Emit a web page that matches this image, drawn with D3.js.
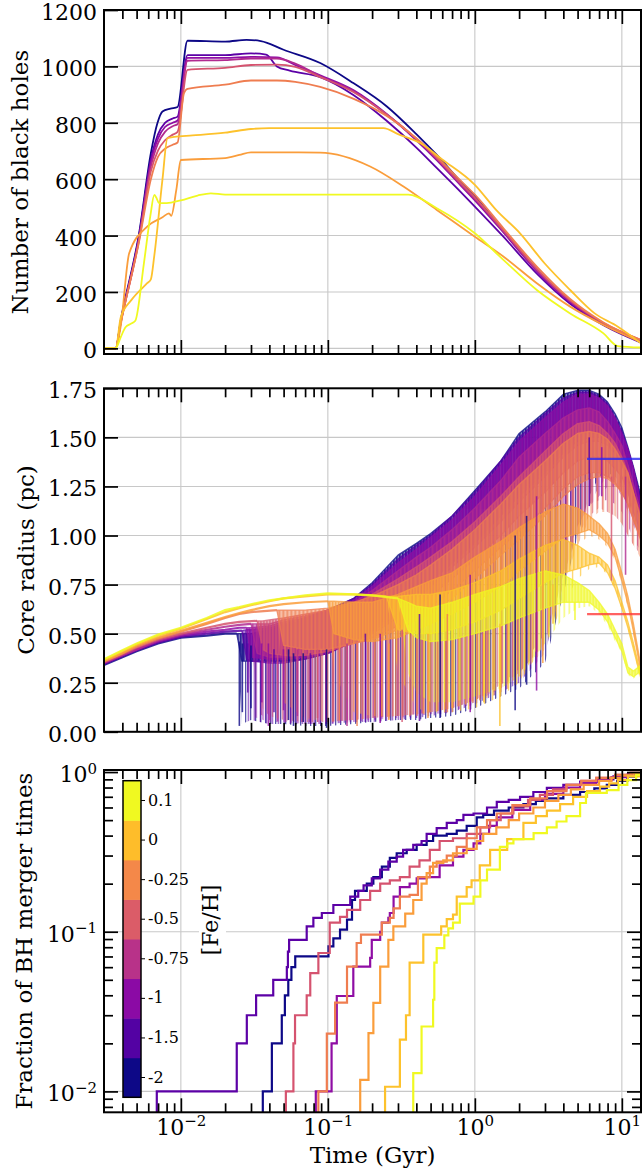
<!DOCTYPE html>
<html>
<head>
<meta charset="utf-8">
<script src="https://cdn.jsdelivr.net/npm/d3@7"></script>
<style>
  body { margin: 0; background: #fff; }
  svg { display: block; font-family: "DejaVu Serif", serif; }
</style>
</head>
<body>
<svg id="chart" width="644" height="1171"></svg>
<script>
// ---- runs (one colour per simulation) ----
const runIds = ["m2", "m1.5", "m1", "m0.75", "m0.5", "m0.25", "mid", "p0", "p0.1"];
const runColors = ["#0d0887", "#5c01a6", "#8f0da4", "#b12a90", "#d5536f", "#ef7d50", "#fa9d3b", "#fdc22c", "#f0f921"];

// colorbar
const cbLabels = ["-2", "-1.5", "-1", "-0.75", "-0.5", "-0.25", "0", "0.1"];

// ---- panel 1: number of black holes [t (Gyr), N] ----
const nbh0 = [[0.003,0],[0.0036,0],[0.0039,100],[0.0052,408],[0.00625,692],[0.00693,799],[0.0075,840],[0.0085,850],[0.0095,856],[0.0111,1091],[0.02,1088],[0.028,1094],[0.035,1090],[0.05,1059],[0.0887,1012],[0.149,941],[0.252,858],[0.4,760],[0.551,686],[0.8,592],[1.0,540],[1.57,415],[2.64,280],[4.45,168],[7.5,88],[13.5,22]];
const nbh1 = [[0.003,0],[0.0036,0],[0.0039,95],[0.0052,400],[0.00625,670],[0.007,760],[0.0078,800],[0.0088,815],[0.0095,822],[0.0111,1040],[0.02,1040],[0.03,1046],[0.038,1042],[0.045,1000],[0.055,985],[0.0887,962],[0.15,898],[0.25,808],[0.4,712],[0.55,640],[0.8,555],[1.0,503],[1.57,395],[2.64,265],[4.45,158],[7.5,82],[13.5,20]];
const nbh2 = [[0.003,0],[0.0036,0],[0.0039,95],[0.0052,395],[0.00625,660],[0.007,745],[0.0078,785],[0.0088,800],[0.0095,808],[0.0111,1030],[0.02,1030],[0.03,1034],[0.045,1032],[0.06,1005],[0.0887,968],[0.15,915],[0.25,832],[0.4,738],[0.55,668],[0.8,578],[1.0,525],[1.57,410],[2.64,274],[4.45,164],[7.5,86],[13.5,25]];
const nbh3 = [[0.003,0],[0.0036,0],[0.0039,92],[0.0052,390],[0.00625,645],[0.007,728],[0.0078,768],[0.0088,788],[0.0095,795],[0.0111,1020],[0.02,1022],[0.03,1028],[0.045,1028],[0.06,1010],[0.0887,965],[0.15,912],[0.25,830],[0.4,742],[0.55,672],[0.8,582],[1.0,530],[1.57,414],[2.64,278],[4.45,168],[7.5,88],[13.5,28]];
const nbh4 = [[0.003,0],[0.0036,0],[0.0039,90],[0.0052,385],[0.00625,628],[0.007,702],[0.0078,738],[0.0088,758],[0.0095,768],[0.0111,988],[0.02,995],[0.03,1005],[0.045,1006],[0.06,998],[0.0887,962],[0.15,908],[0.25,830],[0.4,744],[0.55,676],[0.8,586],[1.0,535],[1.57,418],[2.64,282],[4.45,170],[7.5,90],[13.5,30]];
const nbh5 = [[0.003,0],[0.0036,0],[0.0039,90],[0.0052,380],[0.00625,600],[0.007,680],[0.0078,708],[0.0088,722],[0.0095,730],[0.0105,905],[0.0111,920],[0.02,935],[0.03,950],[0.045,950],[0.06,945],[0.0887,927],[0.15,885],[0.25,825],[0.4,745],[0.55,680],[0.8,595],[1.0,545],[1.57,425],[2.64,290],[4.45,175],[7.5,92],[13.5,30]];
const nbh6 = [[0.003,0],[0.0036,0],[0.0039,80],[0.00445,337],[0.0059,432],[0.0075,465],[0.0083,479],[0.0086,470],[0.0093,560],[0.01,668],[0.02,675],[0.025,686],[0.03,695],[0.05,695],[0.0887,694],[0.194,645],[0.327,574],[0.551,491],[1.0,396],[1.57,325],[2.64,231],[4.45,148],[7.5,83],[13.5,22]];
const nbh7 = [[0.003,0],[0.0036,0],[0.0039,110],[0.0046,171],[0.0059,231],[0.00625,245],[0.0066,330],[0.0075,600],[0.0081,745],[0.009,750],[0.012,755],[0.02,765],[0.03,778],[0.04,781],[0.1,781],[0.239,781],[0.3,760],[0.425,728],[0.6,670],[1.0,580],[1.4,490],[2.03,408],[3.0,300],[4.45,207],[6.5,125],[9.4,77],[13.5,18]];
const nbh8 = [[0.003,0],[0.0036,0],[0.0039,40],[0.0042,75],[0.0046,88],[0.0049,98],[0.0056,300],[0.0062,470],[0.0066,544],[0.0068,535],[0.0071,515],[0.008,515],[0.01,525],[0.013,542],[0.016,550],[0.02,545],[0.1,545],[0.353,545],[0.551,497],[1.0,408],[1.57,313],[2.64,207],[4.45,124],[7.5,53],[9.4,8],[13.5,3]];
const nbhRuns = [nbh0, nbh1, nbh2, nbh3, nbh4, nbh5, nbh6, nbh7, nbh8];

// ---- panel 2: core radius ----
// smooth early part [t, r]
const crEarly0 = [[0.003,0.34],[0.004,0.38],[0.005,0.41],[0.007,0.45],[0.01,0.48],[0.015,0.49],[0.02,0.5],[0.024,0.5]];
const crEarly1 = [[0.003,0.345],[0.004,0.385],[0.005,0.415],[0.007,0.455],[0.01,0.485],[0.015,0.5],[0.02,0.51],[0.026,0.515]];
const crEarly2 = [[0.003,0.35],[0.004,0.39],[0.005,0.42],[0.007,0.46],[0.01,0.49],[0.015,0.51],[0.02,0.52],[0.025,0.53],[0.028,0.53]];
const crEarly3 = [[0.003,0.35],[0.004,0.39],[0.005,0.42],[0.007,0.465],[0.01,0.495],[0.015,0.52],[0.02,0.535],[0.025,0.545],[0.03,0.55]];
const crEarly4 = [[0.003,0.355],[0.004,0.395],[0.005,0.43],[0.007,0.47],[0.01,0.5],[0.015,0.53],[0.02,0.55],[0.025,0.56],[0.033,0.565]];
const crEarly5 = [[0.003,0.36],[0.004,0.4],[0.005,0.435],[0.007,0.475],[0.01,0.51],[0.015,0.55],[0.02,0.58],[0.025,0.6],[0.03,0.61],[0.045,0.62]];
const crEarly6 = [[0.003,0.36],[0.004,0.4],[0.005,0.44],[0.007,0.48],[0.01,0.515],[0.015,0.555],[0.02,0.585],[0.025,0.605],[0.03,0.62],[0.04,0.64],[0.05,0.65],[0.07,0.66],[0.1,0.665]];
const crEarly7 = [[0.003,0.365],[0.004,0.41],[0.005,0.445],[0.007,0.49],[0.01,0.525],[0.015,0.575],[0.02,0.61],[0.025,0.63],[0.03,0.645],[0.04,0.665],[0.05,0.68],[0.07,0.69],[0.1,0.7],[0.15,0.7],[0.2,0.695],[0.25,0.69]];
const crEarly8 = [[0.003,0.37],[0.004,0.415],[0.005,0.45],[0.007,0.495],[0.01,0.53],[0.015,0.58],[0.02,0.62],[0.025,0.635],[0.03,0.65],[0.04,0.67],[0.05,0.68],[0.07,0.695],[0.1,0.705],[0.15,0.7],[0.2,0.695],[0.3,0.68]];
const crEarlyRuns = [crEarly0, crEarly1, crEarly2, crEarly3, crEarly4, crEarly5, crEarly6, crEarly7, crEarly8];

// oscillating part [t, deepest dip, band bottom, band top]
const crBand0 = [[0.024,0.5,0.5,0.5],[0.026,0.04,0.36,0.5],[0.03,0.06,0.36,0.5],[0.04,0.04,0.36,0.52],[0.05,0.04,0.36,0.54],[0.07,0.03,0.37,0.57],[0.1,0.03,0.4,0.62],[0.15,0.04,0.46,0.68],[0.2,0.05,0.52,0.76],[0.3,0.06,0.64,0.9],[0.4,0.06,0.72,0.96],[0.5,0.07,0.77,1.01],[0.7,0.08,0.86,1.1],[1,0.12,0.97,1.23],[1.5,0.18,1.1,1.38],[2,0.22,1.22,1.52],[3,0.35,1.34,1.63],[4,0.7,1.44,1.72],[5,1.0,1.5,1.74],[6,1.2,1.52,1.74],[7,1.3,1.52,1.72],[8,1.32,1.5,1.68],[9,1.3,1.46,1.62],[10,1.26,1.4,1.55],[11,1.18,1.32,1.45],[12,1.1,1.24,1.35],[13.5,1.0,1.1,1.2]];
const crBand1 = [[0.026,0.515,0.515,0.515],[0.028,0.05,0.37,0.52],[0.03,0.06,0.36,0.52],[0.04,0.04,0.35,0.53],[0.05,0.04,0.35,0.55],[0.07,0.04,0.37,0.58],[0.1,0.04,0.4,0.62],[0.15,0.05,0.46,0.68],[0.2,0.05,0.52,0.75],[0.3,0.06,0.62,0.88],[0.4,0.07,0.7,0.95],[0.5,0.08,0.76,1.0],[0.7,0.1,0.86,1.1],[1,0.14,0.96,1.22],[1.5,0.2,1.1,1.38],[2,0.25,1.2,1.5],[3,0.4,1.32,1.62],[4,0.75,1.42,1.7],[5,1.05,1.48,1.73],[6,1.15,1.5,1.73],[7,1.25,1.5,1.71],[8,1.3,1.48,1.67],[9,1.28,1.44,1.6],[10,1.24,1.38,1.53],[11,1.15,1.3,1.44],[12,1.08,1.22,1.34],[13.5,0.98,1.08,1.18]];
const crBand2 = [[0.028,0.53,0.53,0.53],[0.03,0.08,0.38,0.53],[0.04,0.05,0.37,0.54],[0.05,0.05,0.37,0.56],[0.07,0.04,0.38,0.58],[0.1,0.04,0.4,0.62],[0.15,0.05,0.46,0.67],[0.2,0.06,0.51,0.74],[0.3,0.07,0.6,0.86],[0.4,0.08,0.68,0.93],[0.5,0.09,0.74,0.99],[0.7,0.1,0.84,1.08],[1,0.15,0.94,1.2],[1.5,0.22,1.07,1.36],[2,0.3,1.17,1.48],[3,0.45,1.3,1.6],[4,0.8,1.4,1.68],[5,1.05,1.46,1.72],[6,1.15,1.48,1.72],[7,1.2,1.48,1.7],[8,1.25,1.46,1.66],[9,1.25,1.42,1.6],[10,1.2,1.36,1.52],[11,1.12,1.28,1.44],[12,1.05,1.2,1.34],[13.5,0.96,1.06,1.16]];
const crBand3 = [[0.03,0.55,0.55,0.55],[0.033,0.1,0.4,0.55],[0.04,0.06,0.38,0.55],[0.05,0.05,0.38,0.57],[0.07,0.05,0.39,0.59],[0.1,0.05,0.41,0.62],[0.15,0.06,0.46,0.66],[0.2,0.07,0.5,0.72],[0.3,0.08,0.58,0.82],[0.4,0.09,0.64,0.89],[0.5,0.1,0.69,0.94],[0.7,0.12,0.78,1.03],[1,0.16,0.88,1.14],[1.5,0.24,1.0,1.28],[2,0.32,1.1,1.4],[3,0.5,1.22,1.52],[4,0.85,1.32,1.6],[5,1.05,1.38,1.64],[6,1.15,1.4,1.65],[7,1.18,1.4,1.63],[8,1.18,1.38,1.58],[9,1.16,1.34,1.52],[10,1.12,1.3,1.46],[11,1.05,1.22,1.36],[12,0.98,1.12,1.26],[13.5,0.92,1.02,1.12]];
const crBand4 = [[0.033,0.565,0.565,0.565],[0.036,0.12,0.42,0.565],[0.04,0.08,0.4,0.57],[0.05,0.06,0.39,0.58],[0.07,0.05,0.39,0.6],[0.1,0.05,0.41,0.62],[0.15,0.06,0.45,0.65],[0.2,0.07,0.48,0.7],[0.3,0.08,0.54,0.78],[0.4,0.09,0.6,0.84],[0.5,0.1,0.64,0.89],[0.7,0.12,0.72,0.97],[1,0.16,0.82,1.07],[1.5,0.24,0.94,1.2],[2,0.3,1.02,1.3],[3,0.45,1.14,1.43],[4,0.8,1.24,1.52],[5,1.0,1.3,1.57],[6,1.1,1.32,1.58],[7,1.14,1.32,1.56],[8,1.12,1.3,1.52],[9,1.1,1.27,1.47],[10,1.06,1.22,1.4],[11,1.0,1.16,1.32],[12,0.95,1.08,1.22],[13.5,0.9,0.98,1.1]];
const crBand5 = [[0.045,0.62,0.62,0.62],[0.05,0.15,0.44,0.62],[0.07,0.07,0.42,0.62],[0.1,0.05,0.42,0.63],[0.15,0.06,0.45,0.66],[0.2,0.07,0.47,0.69],[0.3,0.08,0.52,0.75],[0.4,0.09,0.57,0.8],[0.5,0.1,0.6,0.85],[0.7,0.12,0.68,0.93],[1,0.16,0.78,1.03],[1.5,0.22,0.9,1.16],[2,0.28,0.98,1.26],[3,0.42,1.1,1.38],[4,0.75,1.2,1.47],[5,0.95,1.26,1.52],[6,1.08,1.29,1.53],[7,1.12,1.3,1.52],[8,1.12,1.29,1.49],[9,1.1,1.26,1.44],[10,1.06,1.22,1.38],[11,1.0,1.16,1.32],[12,0.95,1.08,1.22],[13.5,0.88,0.97,1.08]];
const crBand6 = [[0.1,0.665,0.665,0.665],[0.11,0.3,0.5,0.665],[0.15,0.1,0.47,0.66],[0.2,0.08,0.46,0.66],[0.3,0.08,0.48,0.7],[0.4,0.08,0.52,0.74],[0.5,0.1,0.55,0.77],[0.7,0.12,0.6,0.81],[1,0.15,0.66,0.89],[1.5,0.2,0.74,0.97],[2,0.25,0.82,1.04],[3,0.5,0.92,1.12],[4,0.8,0.99,1.16],[5,0.95,1.01,1.14],[6,1.0,1.03,1.1],[7,0.98,1.0,1.06],[8,0.94,0.96,1.01],[9,0.87,0.89,0.93],[10,0.75,0.77,0.81],[11,0.63,0.65,0.69],[12,0.49,0.51,0.55],[13.5,0.28,0.3,0.33]];
const crBand7 = [[0.25,0.69,0.69,0.69],[0.3,0.3,0.52,0.69],[0.4,0.12,0.5,0.7],[0.5,0.1,0.5,0.7],[0.7,0.1,0.52,0.72],[1,0.12,0.56,0.76],[1.5,0.18,0.62,0.82],[2,0.25,0.68,0.88],[3,0.45,0.76,0.95],[4,0.65,0.81,0.98],[5,0.78,0.83,0.95],[6,0.83,0.85,0.91],[7,0.84,0.86,0.89],[8,0.8,0.81,0.85],[9,0.72,0.73,0.77],[10,0.62,0.63,0.66],[11,0.52,0.53,0.56],[12,0.41,0.42,0.45],[13.5,0.26,0.27,0.29]];
const crBand8 = [[0.3,0.68,0.68,0.68],[0.35,0.3,0.52,0.66],[0.4,0.2,0.48,0.64],[0.5,0.15,0.46,0.63],[0.7,0.15,0.47,0.66],[1,0.18,0.5,0.7],[1.5,0.22,0.54,0.74],[2,0.28,0.58,0.78],[3,0.45,0.63,0.82],[4,0.58,0.66,0.8],[5,0.63,0.66,0.76],[6,0.64,0.66,0.72],[7,0.6,0.62,0.66],[8,0.54,0.56,0.6],[9,0.46,0.48,0.52],[10,0.4,0.41,0.45],[11,0.29,0.3,0.33],[12,0.27,0.28,0.31],[13.5,0.3,0.31,0.34]];
const crBandRuns = [crBand0, crBand1, crBand2, crBand3, crBand4, crBand5, crBand6, crBand7, crBand8];

// single deep dips [run, t, from r, to r]
const crDips = [
  [0,0.025,0.46,0.03],[0,0.0262,0.45,0.1],[1,0.0285,0.45,0.2],[0,0.03,0.44,0.12],[2,0.0355,0.45,0.15],
  [2,0.0394,0.45,0.03],[1,0.043,0.42,0.1],[2,0.0499,0.42,0.11],[0,0.054,0.42,0.06],[0,0.0584,0.4,0.03],
  [3,0.062,0.42,0.08],[0,0.068,0.4,0.05],[1,0.076,0.4,0.04],[4,0.085,0.42,0.07],[0,0.098,0.42,0.02],
  [5,0.12,0.45,0.06],[3,0.135,0.45,0.03],[5,0.158,0.45,0.03],[1,0.18,0.5,0.05],[2,0.227,0.5,0.045],
  [6,0.26,0.45,0.06],[4,0.32,0.52,0.05],[1,0.42,0.6,0.055],[6,0.48,0.5,0.07],[0,0.58,0.7,0.07],
  [5,0.65,0.6,0.1],[2,0.93,0.8,0.1],[7,1.15,0.5,0.15],[7,1.48,0.55,0.03],[0,1.88,1.0,0.11],
  [0,2.25,1.1,0.24],[2,2.63,1.2,0.21],[6,2.9,0.9,0.35],[7,3.4,0.75,0.55],[8,4.8,0.66,0.57],
  [1,6.0,1.5,1.15],[2,7.3,1.45,1.2],[4,8.5,1.3,0.77],[3,10.6,1.3,0.8]
];
// horizontal reference radii [r, t start, t end]
const refRadii = [[1.39, 5.8, 13.5], [0.6, 5.8, 13.5]];
const refColors = ["#2a2af5", "#ff3b3b"];

// ---- panel 3: cumulative fraction of BH merger times [t, fraction] ----
const merge0 = [[0.0361,0.01],[0.0416,0.02],[0.0486,0.03],[0.051,0.04],[0.0538,0.05],[0.0565,0.06],[0.06,0.07],[0.101,0.081],[0.109,0.091],[0.121,0.103],[0.135,0.119],[0.146,0.158],[0.153,0.18],[0.184,0.2],[0.204,0.22],[0.233,0.256],[0.264,0.29],[0.294,0.31],[0.344,0.326],[0.402,0.35],[0.47,0.37],[0.52,0.4],[0.644,0.41],[0.753,0.43],[0.88,0.46],[1.03,0.52],[1.14,0.54],[1.35,0.573],[1.7,0.6],[2.14,0.63],[2.6,0.66],[3.09,0.685],[4.0,0.72],[5.2,0.75],[6.5,0.79],[7.9,0.83],[9.3,0.88],[10.9,0.935],[12.5,0.98],[13.5,1.0]];
const merge1 = [[0.00686,0.01],[0.024,0.02],[0.0281,0.03],[0.0325,0.04],[0.0425,0.05],[0.0526,0.06],[0.0535,0.075],[0.0545,0.089],[0.0718,0.108],[0.0797,0.122],[0.091,0.131],[0.109,0.147],[0.142,0.166],[0.161,0.18],[0.175,0.195],[0.199,0.216],[0.227,0.245],[0.258,0.275],[0.294,0.295],[0.325,0.326],[0.381,0.35],[0.434,0.37],[0.47,0.41],[0.55,0.445],[0.644,0.48],[0.753,0.5],[0.836,0.54],[0.98,0.55],[1.21,0.6],[1.41,0.65],[1.7,0.67],[2.03,0.7],[2.5,0.75],[3.09,0.795],[4.0,0.83],[5.2,0.87],[6.8,0.9],[8.77,0.94],[11,0.97],[13.5,1.0]];
const merge2 = [[0.0828,0.01],[0.106,0.02],[0.115,0.0396],[0.149,0.0605],[0.194,0.0686],[0.199,0.089],[0.227,0.1],[0.233,0.114],[0.258,0.122],[0.264,0.131],[0.28,0.166],[0.309,0.19],[0.36,0.2],[0.402,0.216],[0.47,0.22],[0.576,0.26],[0.71,0.295],[0.836,0.326],[0.98,0.358],[1.09,0.41],[1.25,0.46],[1.41,0.52],[1.8,0.58],[2.38,0.67],[3.0,0.73],[4.0,0.8],[5.2,0.85],[6.7,0.89],[8.5,0.93],[11,0.97],[13.5,1.0]];
const merge4 = [[0.0518,0.01],[0.0583,0.02],[0.0598,0.03],[0.0718,0.04],[0.0759,0.055],[0.0862,0.0736],[0.103,0.114],[0.121,0.124],[0.135,0.137],[0.166,0.158],[0.194,0.18],[0.227,0.2],[0.264,0.21],[0.309,0.22],[0.36,0.256],[0.42,0.28],[0.494,0.326],[0.576,0.37],[0.71,0.385],[0.88,0.41],[1.09,0.45],[1.27,0.5],[1.5,0.55],[1.83,0.61],[2.3,0.67],[2.77,0.72],[3.4,0.78],[4.2,0.83],[5.3,0.88],[6.7,0.92],[9,0.96],[11.5,0.99],[13.5,1.0]];
const merge5 = [[0.0862,0.01],[0.0984,0.023],[0.112,0.036],[0.135,0.0605],[0.157,0.085],[0.168,0.096],[0.233,0.114],[0.264,0.122],[0.28,0.14],[0.309,0.166],[0.36,0.17],[0.41,0.22],[0.494,0.256],[0.55,0.275],[0.644,0.3],[0.753,0.34],[0.88,0.385],[1.03,0.45],[1.21,0.5],[1.41,0.55],[1.8,0.62],[2.38,0.685],[3.1,0.76],[4.2,0.83],[5.3,0.88],[6.7,0.92],[9,0.96],[11.5,0.99],[13.5,1.0]];
const merge6 = [[0.166,0.0118],[0.189,0.0232],[0.204,0.0359],[0.227,0.0605],[0.258,0.089],[0.279,0.108],[0.336,0.13],[0.381,0.158],[0.434,0.2],[0.47,0.233],[0.52,0.27],[0.61,0.28],[0.71,0.31],[0.88,0.33],[1.03,0.37],[1.14,0.41],[1.4,0.45],[1.7,0.5],[2.0,0.55],[2.5,0.6],[3.0,0.66],[3.7,0.72],[4.5,0.78],[5.5,0.83],[7,0.88],[8.5,0.92],[10,0.95],[12,0.98],[13.5,1.0]];
const merge7 = [[0.245,0.0107],[0.309,0.0211],[0.34,0.03],[0.36,0.064],[0.446,0.096],[0.59,0.108],[0.644,0.12],[0.71,0.128],[0.753,0.166],[0.88,0.19],[0.95,0.21],[1.08,0.26],[1.27,0.326],[1.66,0.38],[2.14,0.48],[2.6,0.53],[3.09,0.573],[3.8,0.63],[4.66,0.7],[5.8,0.76],[7.1,0.81],[8.2,0.85],[9.4,0.89],[11,0.94],[13.5,1.0]];
const merge8 = [[0.381,0.013],[0.434,0.0255],[0.52,0.0375],[0.53,0.064],[0.55,0.079],[0.62,0.095],[0.66,0.105],[0.71,0.114],[0.79,0.15],[0.98,0.166],[1.09,0.21],[1.21,0.245],[1.48,0.34],[1.66,0.358],[1.83,0.38],[2.51,0.414],[3.09,0.45],[3.6,0.49],[4.2,0.53],[5.2,0.64],[5.7,0.74],[7.9,0.77],[9.5,0.83],[10.9,0.89],[12.5,0.96],[13.5,1.0]];
const mergeRuns = [merge0, merge1, merge2, null, merge4, merge5, merge6, merge7, merge8];

// ---- layout ----
const svg = d3.select("#chart");
const left = 104, right = 641;
const p1 = { top: 10, bottom: 354 };
const p2 = { top: 388.3, bottom: 731.8 };
const p3 = { top: 770, bottom: 1112.3 };

const x = d3.scaleLog().domain([0.003, 13.5]).range([left, right]);
const y1 = d3.scaleLinear().domain([-20, 1200]).range([p1.bottom, p1.top]);
const y2 = d3.scaleLinear().domain([0, 1.75]).range([p2.bottom, p2.top]);
const y3 = d3.scaleLog().domain([0.0074, 1.03]).range([p3.bottom, p3.top]);

const xMajor = [0.01, 0.1, 1, 10];
const xMinor = [];
[0.001, 0.01, 0.1, 1].forEach(d => { for (let k = 2; k < 10; k++) { const v = k * d; if (v > 0.0031 && v < 13.5) xMinor.push(v); } });
const y3Major = [0.01, 0.1, 1];
const y3Minor = [];
[0.001, 0.01, 0.1].forEach(d => { for (let k = 2; k < 10; k++) { const v = k * d; if (v > 0.0074 && v < 1) y3Minor.push(v); } });

const defs = svg.append("defs");
[p1, p2, p3].forEach((p, i) => {
  defs.append("clipPath").attr("id", "clip" + (i + 1))
    .append("rect").attr("x", left).attr("y", p.top).attr("width", right - left).attr("height", p.bottom - p.top);
});
// vertical hatching that stands in for the dense oscillation of each core-radius run
runColors.forEach((c, i) => {
  const w = 5 + (i % 4);
  defs.append("pattern").attr("id", "spikes" + i)
    .attr("patternUnits", "userSpaceOnUse").attr("width", w).attr("height", 20)
    .attr("patternTransform", `translate(${(i * 1.7) % w},0)`)
    .append("rect").attr("width", 1.3).attr("height", 20).attr("fill", c);
  const wc = 3 + (i % 2);
  defs.append("pattern").attr("id", "dense" + i)
    .attr("patternUnits", "userSpaceOnUse").attr("width", wc).attr("height", 20)
    .attr("patternTransform", `translate(${(i * 1.3) % wc},0)`)
    .append("rect").attr("width", 1.6).attr("height", 20).attr("fill", c);
});

// grid lines
function grid(p, yScale, yVals) {
  const g = svg.append("g").attr("stroke", "#c8c8c8").attr("stroke-width", 1.1);
  g.selectAll(".gx").data(xMajor).join("line")
    .attr("x1", d => x(d)).attr("x2", d => x(d)).attr("y1", p.top).attr("y2", p.bottom);
  g.selectAll(".gy").data(yVals).join("line")
    .attr("x1", left).attr("x2", right).attr("y1", d => yScale(d)).attr("y2", d => yScale(d));
}
grid(p1, y1, [0, 200, 400, 600, 800, 1000]);
grid(p2, y2, [0.25, 0.5, 0.75, 1, 1.25, 1.5]);
grid(p3, y3, [0.01, 0.1]);

// ---- panel 1 ----
const line1 = d3.line().curve(d3.curveMonotoneX).x(d => x(d[0])).y(d => y1(d[1]));
svg.append("g").attr("clip-path", "url(#clip1)")
  .selectAll("path").data(nbhRuns).join("path")
  .attr("d", line1).attr("fill", "none")
  .attr("stroke", (d, i) => runColors[i]).attr("stroke-width", 1.8)
  .attr("stroke-linejoin", "round");

// ---- panel 2 ----
const g2 = svg.append("g").attr("clip-path", "url(#clip2)");
const floorArea = d3.area().x(d => x(d[0])).y0(d => y2(d[1])).y1(d => y2(d[2]));
const coreArea = d3.area().x(d => x(d[0])).y0(d => y2(d[2])).y1(d => y2(d[3]));
const line2 = d3.line().x(d => x(d[0])).y(d => y2(d[1]));
crBandRuns.forEach((band, i) => {
  g2.append("path").attr("d", floorArea(band)).attr("fill", `url(#spikes${i})`).attr("opacity", 0.7);
  g2.append("path").attr("d", coreArea(band)).attr("fill", runColors[i]).attr("opacity", 0.5);
  g2.append("path").attr("d", coreArea(band)).attr("fill", `url(#dense${i})`)
    .attr("stroke", runColors[i]).attr("stroke-width", 1.3).attr("stroke-linejoin", "round").attr("opacity", 0.75);
  g2.append("path").attr("d", line2(crEarlyRuns[i])).attr("fill", "none")
    .attr("stroke", runColors[i]).attr("stroke-width", 2.2).attr("opacity", 0.85);
});
g2.selectAll(".dip").data(crDips).join("line")
  .attr("x1", d => x(d[1])).attr("x2", d => x(d[1]))
  .attr("y1", d => y2(d[2])).attr("y2", d => y2(d[3]))
  .attr("stroke", d => runColors[d[0]]).attr("stroke-width", 1.6).attr("opacity", 0.8);
g2.selectAll(".ref").data(refRadii).join("line")
  .attr("x1", d => x(d[1])).attr("x2", d => x(d[2]))
  .attr("y1", d => y2(d[0])).attr("y2", d => y2(d[0]))
  .attr("stroke", (d, i) => refColors[i]).attr("stroke-width", 2.2).attr("opacity", 0.8);

// ---- panel 3 ----
const line3 = d3.line().curve(d3.curveStepAfter).x(d => x(d[0])).y(d => y3(d[1]));
svg.append("g").attr("clip-path", "url(#clip3)")
  .selectAll("path").data(mergeRuns.map((d, i) => ({ d, i })).filter(o => o.d)).join("path")
  .attr("d", o => line3([[o.d[0][0], 0.005]].concat(o.d)))
  .attr("fill", "none").attr("stroke", o => runColors[o.i]).attr("stroke-width", 2.2);

// ---- axes ----
function cleanAxis(g, fontSize) {
  g.select(".domain").remove();
  g.attr("font-family", "DejaVu Serif").attr("font-size", fontSize);
  g.selectAll(".tick line").attr("stroke", "#000").attr("stroke-width", 1.7);
  g.selectAll(".tick text").attr("fill", "#000");
}
function powerLabels(g) {
  g.selectAll(".tick text").each(function(d) {
    const t = d3.select(this);
    const e = Math.round(Math.log10(d));
    t.text(null);
    t.append("tspan").text("10");
    t.append("tspan").attr("dy", -8.5).attr("font-size", 15).text(e < 0 ? "\u2212" + (-e) : String(e));
  });
}
function xTicks(p, labels) {
  const b = svg.append("g").attr("transform", `translate(0,${p.bottom})`)
    .call(d3.axisBottom(x).tickValues(xMajor).tickSize(-14).tickPadding(7).tickFormat(labels ? null : () => ""));
  cleanAxis(b, 22);
  if (labels) powerLabels(b);
  cleanAxis(svg.append("g").attr("transform", `translate(0,${p.bottom})`)
    .call(d3.axisBottom(x).tickValues(xMinor).tickSize(-9).tickFormat(() => "")), 22);
  cleanAxis(svg.append("g").attr("transform", `translate(0,${p.top})`)
    .call(d3.axisTop(x).tickValues(xMajor).tickSize(-14).tickFormat(() => "")), 22);
  cleanAxis(svg.append("g").attr("transform", `translate(0,${p.top})`)
    .call(d3.axisTop(x).tickValues(xMinor).tickSize(-9).tickFormat(() => "")), 22);
}
xTicks(p1, false);
xTicks(p2, false);
xTicks(p3, true);

const ly1 = svg.append("g").attr("transform", `translate(${left},0)`)
  .call(d3.axisLeft(y1).tickValues([0, 200, 400, 600, 800, 1000, 1200]).tickSize(-14).tickPadding(7).tickFormat(d3.format("d")));
cleanAxis(ly1, 22);
const ly2 = svg.append("g").attr("transform", `translate(${left},0)`)
  .call(d3.axisLeft(y2).tickValues([0, 0.25, 0.5, 0.75, 1, 1.25, 1.5, 1.75]).tickSize(-14).tickPadding(7).tickFormat(d3.format(".2f")));
cleanAxis(ly2, 22);

const ly3 = svg.append("g").attr("transform", `translate(${left},0)`)
  .call(d3.axisLeft(y3).tickValues(y3Major).tickSize(-14).tickPadding(7));
cleanAxis(ly3, 22);
powerLabels(ly3);
[ly1, ly2, ly3].forEach(g => g.selectAll(".tick text").attr("dy", "0.43em"));
cleanAxis(svg.append("g").attr("transform", `translate(${left},0)`)
  .call(d3.axisLeft(y3).tickValues(y3Minor).tickSize(-9).tickFormat(() => "")), 22);
cleanAxis(svg.append("g").attr("transform", `translate(${right},0)`)
  .call(d3.axisRight(y3).tickValues(y3Major).tickSize(-14).tickFormat(() => "")), 22);
cleanAxis(svg.append("g").attr("transform", `translate(${right},0)`)
  .call(d3.axisRight(y3).tickValues(y3Minor).tickSize(-9).tickFormat(() => "")), 22);

// axis titles
const titles = [
  { text: "Number of black holes", cx: 28, cy: (p1.top + p1.bottom) / 2 },
  { text: "Core radius (pc)", cx: 34, cy: (p2.top + p2.bottom) / 2 },
  { text: "Fraction of BH merger times", cx: 32, cy: (p3.top + p3.bottom) / 2 }
];
titles.forEach(t => {
  svg.append("text").attr("transform", `translate(${t.cx},${t.cy}) rotate(-90)`)
    .attr("text-anchor", "middle").attr("font-size", 23).attr("fill", "#000").text(t.text);
});
svg.append("text").attr("x", (left + right) / 2).attr("y", 1163)
  .attr("text-anchor", "middle").attr("font-size", 23).attr("fill", "#000").text("Time (Gyr)");

// ---- colorbar ----
const cb = { x: 123, w: 18, top: 780.7, bottom: 1097.3 };
const cbScale = d3.scaleBand().domain(cbLabels.slice().reverse()).range([cb.top, cb.bottom]);
const cbColor = l => d3.interpolatePlasma(cbLabels.indexOf(l) / (cbLabels.length - 1));
svg.append("g").selectAll("rect").data(cbLabels).join("rect")
  .attr("x", cb.x).attr("width", cb.w)
  .attr("y", d => cbScale(d)).attr("height", cbScale.bandwidth() + 0.5)
  .attr("fill", d => cbColor(d));
svg.append("rect").attr("x", cb.x).attr("y", cb.top).attr("width", cb.w).attr("height", cb.bottom - cb.top)
  .attr("fill", "none").attr("stroke", "#000").attr("stroke-width", 1.5);
const cbAxis = svg.append("g").attr("transform", `translate(${cb.x + cb.w},0)`)
  .call(d3.axisRight(cbScale).tickSize(4).tickPadding(3));
cbAxis.select(".domain").remove();
cbAxis.attr("font-family", "DejaVu Serif").attr("font-size", 16);
cbAxis.selectAll(".tick line").attr("stroke", "#000").attr("stroke-width", 1);
cbAxis.selectAll(".tick text").attr("fill", "#000");

svg.append("rect").attr("x", 199).attr("y", 880).attr("width", 27).attr("height", 80).attr("fill", "#fff");
svg.append("text").attr("transform", "translate(218,920) rotate(-90)")
  .attr("text-anchor", "middle").attr("font-size", 22).attr("fill", "#000").text("[Fe/H]");

// frames
[p1, p2, p3].forEach(p => {
  svg.append("rect").attr("x", left).attr("y", p.top).attr("width", right - left).attr("height", p.bottom - p.top)
    .attr("fill", "none").attr("stroke", "#000").attr("stroke-width", 2);
});
</script>
</body>
</html>
